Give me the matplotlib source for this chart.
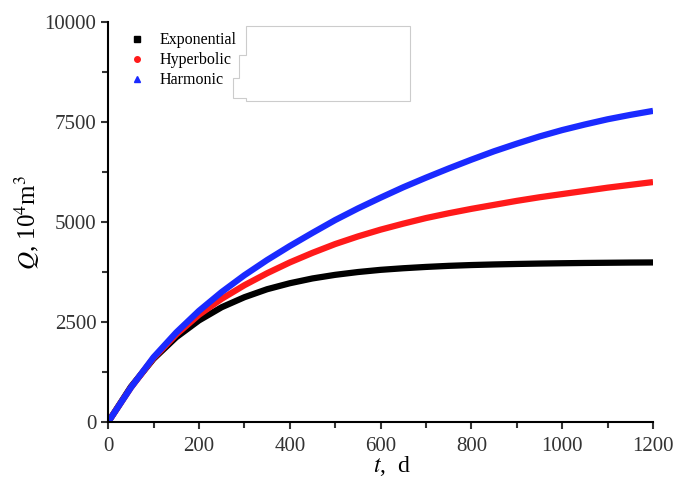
import matplotlib.pyplot as plt
from matplotlib.lines import Line2D
from matplotlib.patches import Polygon
from matplotlib.ticker import MultipleLocator

plt.rcParams['font.family'] = ['Liberation Serif', 'Noto Sans CJK SC']
plt.rcParams['mathtext.fontset'] = 'stix'

# Data (t in days, Q in 10^4 m^3)
t = [0, 50, 100, 150, 200, 250, 300, 350, 400, 450, 500, 550, 600, 650, 700,
     750, 800, 850, 900, 950, 1000, 1050, 1100, 1150, 1200]
q_exp = [0, 880, 1580, 2120, 2540, 2870, 3120, 3320, 3470, 3590, 3680, 3750, 3805,
         3845, 3878, 3905, 3925, 3940, 3952, 3962, 3970, 3977, 3982, 3987, 3990]
q_hyp = [0, 860, 1600, 2190, 2680, 3080, 3420, 3720, 3990, 4230, 4450, 4640, 4810,
         4960, 5100, 5220, 5330, 5430, 5530, 5620, 5700, 5780, 5860, 5930, 6000]
q_har = [0, 860, 1620, 2240, 2780, 3250, 3670, 4050, 4400, 4730, 5050, 5340, 5610,
         5870, 6110, 6340, 6560, 6770, 6960, 7140, 7300, 7440, 7570, 7680, 7780]

labels = ['Exponential', 'Hyperbolic', 'Harmonic']
colors = ['#000000', '#ff1a1a', '#1a2aff']
markers = ['s', 'o', '^']

fig = plt.figure(figsize=(6.76, 4.91), dpi=100)
ax = fig.add_axes([0.16, 0.1405, 0.806, 0.8145])

for q, c in zip([q_exp, q_hyp, q_har], colors):
    ax.plot(t, q, color=c, lw=4.5, solid_joinstyle='round', solid_capstyle='butt')

ax.set_xlim(0, 1200)
ax.set_ylim(0, 10000)
ax.xaxis.set_major_locator(MultipleLocator(200))
ax.xaxis.set_minor_locator(MultipleLocator(100))
ax.yaxis.set_major_locator(MultipleLocator(2500))
ax.yaxis.set_minor_locator(MultipleLocator(1250))
for s in ['top', 'right']:
    ax.spines[s].set_visible(False)
for s in ['left', 'bottom']:
    ax.spines[s].set_linewidth(1.5)
ax.tick_params(which='major', direction='out', length=5, width=1.5, labelsize=15,
               colors='#333333')
ax.tick_params(axis='x', which='major', pad=6)
ax.tick_params(which='minor', direction='out', length=4, width=1.5, colors='#333333')

ax.set_xlabel('$t$,  d', fontsize=17, va='center')
ax.xaxis.set_label_coords(0.52, -0.11)
ax.set_ylabel(r'$Q$, 10$^4$m$^3$', fontsize=18, va='center')
ax.yaxis.set_label_coords(-0.149, 0.5)

handles = [Line2D([], [], ls='none', marker=m, color=c, ms=4) for m, c in zip(markers, colors)]
ax.legend(handles, labels, loc='upper left', bbox_to_anchor=(0.012, 1.01), frameon=False,
          fontsize=11.5, handletextpad=0.9, labelspacing=0.25, handlelength=1.0)

# white box overlapping the legend in the original image
W, H = 676, 491
pts = [(246, 26), (410, 26), (410, 101), (246, 101), (246, 98), (233, 98),
       (233, 78), (239, 78), (239, 55), (246, 55)]
fig.patches.append(Polygon([(x / W, 1 - y / H) for x, y in pts], closed=True,
                           transform=fig.transFigure, facecolor='white',
                           edgecolor='#cccccc', lw=0.8, zorder=5))

fig.savefig('out.png', dpi=100)
